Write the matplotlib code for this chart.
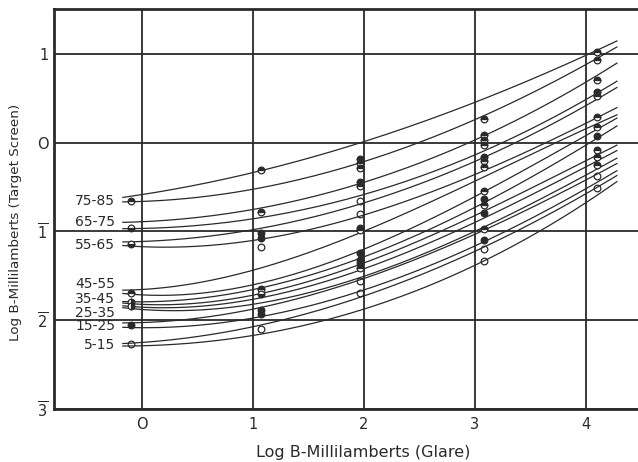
import numpy as np
import matplotlib
matplotlib.use("Agg")
import matplotlib.pyplot as plt

# ---- data ----
groups = ["75-85", "65-75", "55-65", "45-55", "35-45", "25-35", "15-25", "5-15"]
label_y = [-0.66, -0.90, -1.15, -1.59, -1.765, -1.915, -2.07, -2.28]
start_y = [-0.66, -0.96, -1.14, -1.69, -1.80, -1.84, -2.05, -2.27]

curve_x = [-0.17, 1.0, 2.0, 3.0, 4.0, 4.28]
curves = [
    [-0.62, -0.33, 0.00, 0.45, 1.00, 1.13],
    [-0.67, -0.52, -0.22, 0.25, 0.90, 1.06],
    [-0.90, -0.75, -0.45, 0.02, 0.70, 0.88],
    [-0.97, -0.86, -0.58, -0.15, 0.50, 0.68],
    [-1.12, -0.98, -0.68, -0.22, 0.43, 0.61],
    [-1.16, -1.10, -0.82, -0.36, 0.22, 0.39],
    [-1.66, -1.45, -0.98, -0.45, 0.16, 0.31],
    [-1.70, -1.60, -1.20, -0.62, 0.10, 0.26],
    [-1.79, -1.66, -1.28, -0.74, -0.02, 0.18],
    [-1.81, -1.71, -1.36, -0.84, -0.16, -0.06],
    [-1.84, -1.76, -1.42, -0.92, -0.23, -0.12],
    [-1.86, -1.82, -1.50, -1.02, -0.33, -0.20],
    [-2.03, -1.88, -1.52, -1.05, -0.40, -0.25],
    [-2.08, -1.98, -1.65, -1.18, -0.50, -0.33],
    [-2.26, -2.09, -1.70, -1.25, -0.56, -0.38],
    [-2.29, -2.18, -1.86, -1.40, -0.66, -0.45],
]

pt_x = [1.07, 1.97, 3.08, 4.10]
pts_by_col = [
    [-0.31, -0.78, -1.02, -1.07, -1.18, -1.65, -1.70, -1.88, -1.93, -2.10],
    [-0.18, -0.23, -0.29, -0.44, -0.49, -0.66, -0.81, -0.96, -0.98, -1.24, -1.32, -1.36, -1.41, -1.56, -1.69],
    [0.27, 0.09, 0.03, -0.03, -0.16, -0.21, -0.27, -0.55, -0.64, -0.70, -0.79, -0.97, -1.10, -1.20, -1.33],
    [1.02, 0.93, 0.70, 0.57, 0.52, 0.29, 0.18, 0.07, -0.08, -0.16, -0.25, -0.38, -0.51],
]
fill_by_col = [
    ["top", "top", "full", "full", "none", "top", "bottom", "full", "full", "none"],
    ["top", "top", "top", "top", "top", "none", "none", "top", "top", "full", "full", "full", "top", "none", "none"],
    ["top", "top", "top", "top", "top", "top", "top", "top", "full", "top", "full", "top", "full", "none", "none"],
    ["top", "top", "top", "top", "top", "top", "top", "full", "top", "top", "top", "none", "none"],
]
group_fill = ["top", "bottom", "bottom", "top", "right", "right", "full", "none"]
start_x = -0.10

y_ticks = [1, 0, -1, -2, -3]
y_ticklabels = ["1", "O", r"$\overline{1}$", r"$\overline{2}$", r"$\overline{3}$"]
x_ticks = [0, 1, 2, 3, 4]
x_ticklabels = ["O", "1", "2", "3", "4"]

# ---- figure ----
fig = plt.figure(figsize=(6.38, 4.62), dpi=100)
ax = fig.add_axes([54 / 638, 53 / 462, 1 - 54 / 638, (409 - 9.3) / 462])
ax.set_xlim(-0.79, 4.47)
ax.set_ylim(-3.0, 1.5)
ink = "#2a2a2a"

for v in x_ticks:
    ax.axvline(v, color=ink, lw=1.3, zorder=1)
for v in y_ticks:
    ax.axhline(v, color=ink, lw=1.3, zorder=1)

xs = np.linspace(curve_x[0], curve_x[-1], 200)
for c in curves:
    p = np.polyfit(curve_x, c, 3)
    ax.plot(xs, np.polyval(p, xs), color=ink, lw=0.9, zorder=2)

for xv, col, fills in zip(pt_x, pts_by_col, fill_by_col):
    for yv, f in zip(col, fills):
        ax.plot([xv], [yv], marker="o", ms=4.8, mfc=ink, mec=ink, mew=0.9,
                fillstyle=f, markerfacecoloralt="white", zorder=3)

for g, ly, sy, f in zip(groups, label_y, start_y, group_fill):
    ax.plot([start_x], [sy], marker="o", ms=4.8, mfc=ink, mec=ink, mew=0.9,
            fillstyle=f, markerfacecoloralt="white", zorder=3)
    ax.text(-0.24, ly, g, ha="right", va="center", fontsize=10, color=ink,
            family="DejaVu Sans")

for s in ["top", "left", "bottom"]:
    ax.spines[s].set_linewidth(2.0)
    ax.spines[s].set_color(ink)
ax.spines["right"].set_visible(False)

ax.set_yticks(y_ticks)
ax.set_yticklabels(y_ticklabels, fontsize=10.5, color=ink)
ax.set_xticks(x_ticks)
ax.set_xticklabels(x_ticklabels, fontsize=10.5, color=ink)
ax.tick_params(axis="y", length=0, pad=4)
ax.tick_params(axis="x", length=0, pad=6)
fig.text(363 / 638, 1 - 453 / 462, "Log B-Millilamberts (Glare)", ha="center", va="center",
         fontsize=11.5, color=ink)
fig.text(16 / 638, 1 - 222 / 462, "Log B-Millilamberts (Target Screen)", ha="center",
         va="center", rotation=90, fontsize=9.7, color=ink)

fig.savefig("out.png", dpi=100, facecolor="white")
